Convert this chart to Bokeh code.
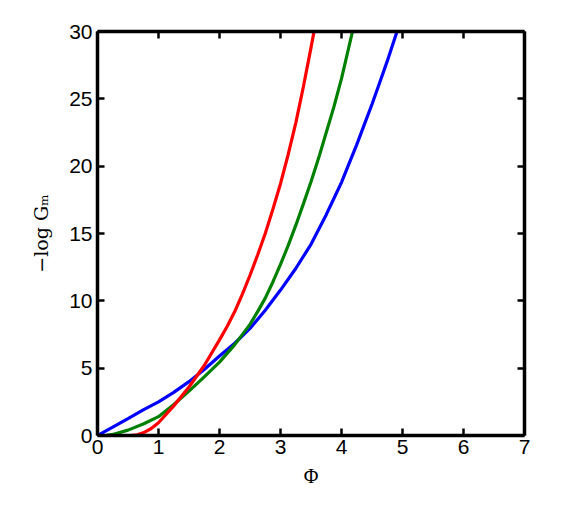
from bokeh.plotting import figure
from bokeh.models import LinearAxis, Range1d, FixedTicker
from bokeh.embed import file_html
from bokeh.resources import INLINE

# Data
phi_blue = [0.0, 0.25, 0.5, 0.75, 1.0, 1.25, 1.5, 1.75, 2.0, 2.25, 2.5, 2.75,
            3.0, 3.25, 3.5, 3.625, 3.75, 3.875, 4.0, 4.125, 4.25, 4.375, 4.5,
            4.625, 4.75, 4.91]
g_blue = [0.0, 0.62, 1.25, 1.9, 2.5, 3.2, 4.0, 4.9, 5.9, 6.85, 7.95, 9.3,
          10.8, 12.4, 14.2, 15.3, 16.4, 17.6, 18.8, 20.2, 21.6, 23.1, 24.6,
          26.2, 27.8, 30.0]

phi_green = [0.0, 0.15, 0.25, 0.5, 0.75, 1.0, 1.25, 1.5, 1.75, 2.0, 2.25, 2.5,
             2.625, 2.75, 2.875, 3.0, 3.125, 3.25, 3.375, 3.5, 3.625, 3.75,
             3.875, 4.0, 4.18]
g_green = [0.0, 0.02, 0.08, 0.4, 0.85, 1.4, 2.3, 3.3, 4.35, 5.45, 6.75, 8.25,
           9.2, 10.2, 11.4, 12.7, 14.1, 15.6, 17.2, 18.85, 20.6, 22.5,
           24.4, 26.5, 30.0]

phi_red = [0.55, 0.65, 0.75, 0.875, 1.0, 1.25, 1.5, 1.75, 2.0, 2.125, 2.25,
           2.375, 2.5, 2.625, 2.75, 2.875, 3.0, 3.125, 3.25, 3.375, 3.5, 3.55]
g_red = [0.0, 0.05, 0.2, 0.5, 0.95, 2.2, 3.6, 5.2, 7.1, 8.1, 9.2,
         10.5, 11.9, 13.4, 15.0, 16.8, 18.7, 20.85, 23.2, 25.9, 28.8, 30.0]

x_ticks = [0, 1, 2, 3, 4, 5, 6, 7]
y_ticks = [0, 5, 10, 15, 20, 25, 30]

W, H = 545, 495
p = figure(width=W, height=H, output_backend="svg", toolbar_location=None,
           x_range=Range1d(0, 7), y_range=Range1d(0, 30),
           min_border_left=97, min_border_right=W - 524,
           min_border_top=31, min_border_bottom=H - 435,
           x_axis_location=None, y_axis_location=None)
p.grid.visible = False
p.outline_line_color = None
p.background_fill_color = "white"
p.border_fill_color = "white"

p.line(phi_blue, g_blue, line_color="#0000ff", line_width=3.2)
p.line(phi_green, g_green, line_color="#008000", line_width=3.2)
p.line(phi_red, g_red, line_color="#ff0000", line_width=3.2)


def style(ax, ticks, show_labels):
    ax.ticker = FixedTicker(ticks=ticks)
    ax.axis_line_width = 3.5
    ax.axis_line_color = "black"
    ax.major_tick_in = 7
    ax.major_tick_out = 0
    ax.major_tick_line_width = 2.5
    ax.major_tick_line_color = "black"
    ax.minor_tick_line_color = None
    ax.major_label_text_font = "Liberation Sans"
    ax.major_label_text_color = "black"
    ax.axis_label_text_color = "black"
    if show_labels:
        ax.major_label_text_font_size = "21px"
    else:
        ax.major_label_text_font_size = "0px"
        ax.major_label_text_alpha = 0


xb = LinearAxis(axis_label="Φ")
style(xb, x_ticks, True)
xb.major_label_standoff = 4
xb.axis_label_standoff = 8
xb.axis_label_text_font = "Liberation Serif"
xb.axis_label_text_font_style = "normal"
xb.axis_label_text_font_size = "20px"
p.add_layout(xb, "below")

yl = LinearAxis(axis_label="−log Gₘ")
style(yl, y_ticks, True)
yl.major_label_standoff = 5
yl.axis_label_standoff = 14
yl.axis_label_text_font = "DejaVu Serif"
yl.axis_label_text_font_style = "normal"
yl.axis_label_text_font_size = "19px"
p.add_layout(yl, "left")

xt = LinearAxis()
style(xt, x_ticks, False)
p.add_layout(xt, "above")

yr = LinearAxis()
style(yr, y_ticks, False)
p.add_layout(yr, "right")

open("out.html", "w").write(file_html(p, INLINE))
